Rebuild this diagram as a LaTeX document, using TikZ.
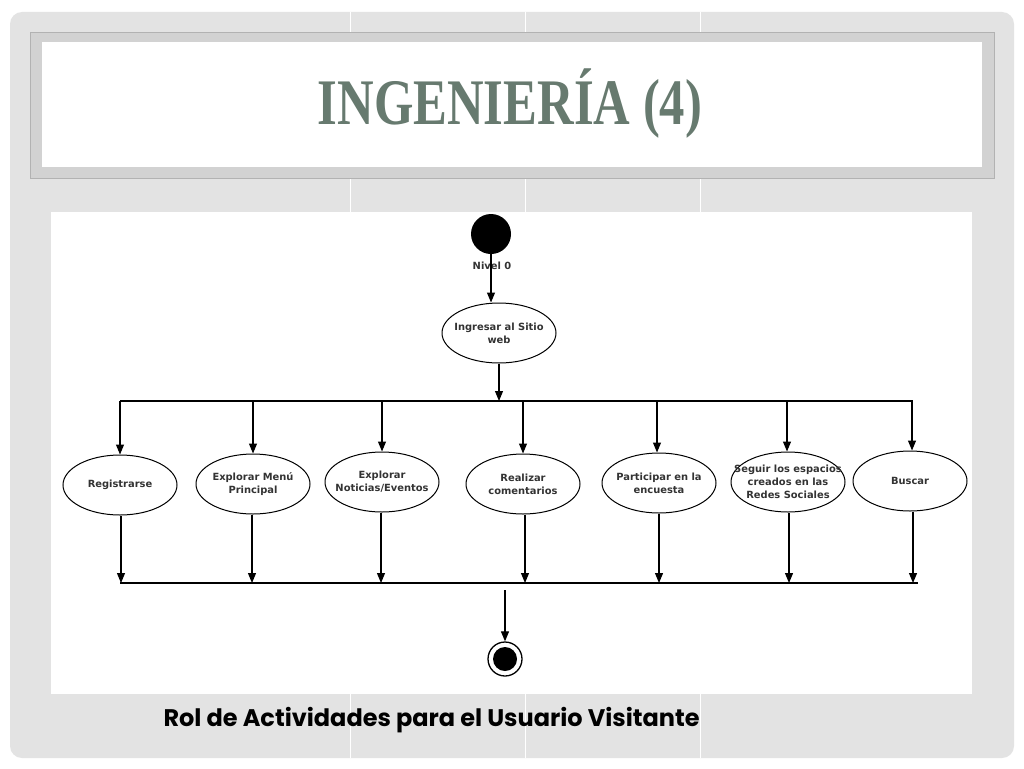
\documentclass[tikz,border=0pt]{standalone}
\usepackage{fontspec}
\setmainfont{Liberation Serif}
\newfontfamily\diafont{DejaVu Sans}
\newfontfamily\capfont{Poppins}
\usetikzlibrary{arrows.meta,shapes.geometric}
\definecolor{panelgray}{HTML}{E3E3E3}
\definecolor{framegray}{HTML}{D2D2D2}
\definecolor{titlegreen}{HTML}{677A6F}
\definecolor{txtgray}{HTML}{333333}
\tikzset{
  arr/.style={line width=1.1pt,-{Triangle[length=10pt,width=8pt]}},
  wire/.style={line width=1.1pt},
  act/.style={ellipse,draw=black,line width=1pt,minimum width=114pt,minimum height=60pt,inner sep=0pt},
  lbl/.style={font=\diafont\bfseries\fontsize{9.9}{12.8}\selectfont,text=txtgray,align=center,inner sep=0pt},
}
\begin{document}
\begin{tikzpicture}[x=1pt,y=-1pt]
\useasboundingbox (0,0) rectangle (1024,768);
\fill[white] (0,0) rectangle (1024,768);
% background panel
\fill[panelgray,rounded corners=12pt] (10,12) rectangle (1014,758);
\foreach \vx in {350,525,700}{\draw[white,line width=1pt] (\vx,12) -- (\vx,758);}
% title frame
\filldraw[fill=framegray,draw=black!30,line width=0.8pt] (30,32) rectangle (994,178);
\fill[white] (42,42) rectangle (982,167);
\node[text=titlegreen,xscale=0.78,font=\bfseries\fontsize{65}{70}\selectfont] (title) at (510,104) {INGENIERÍA (4)};
% diagram area
\fill[white] (51,212) rectangle (972,694);
% start
\node[circle,fill=black,minimum size=40pt,inner sep=0pt] (start) at (491,234) {};
\node[lbl] (nivel) at (492,266) {Nivel 0};
\node[act] (ing) at (499,333) {};
\node[lbl] at (ing) {Ingresar al Sitio\\web};
\draw[arr] (start.south) -- (ing.north -| start.south);
% fork bar
\coordinate (fl) at (120,401);
\coordinate (fr) at (913,401);
\coordinate (fm) at (499,401);
\draw[wire] (fl) -- (fr);
\draw[arr] (ing.south) -- (fm);
% activities
\node[act] (e1) at (120,485) {};
\node[lbl] at (e1) {Registrarse};
\node[act] (e2) at (253,484) {};
\node[lbl] at (e2) {Explorar Menú\\Principal};
\node[act] (e3) at (382,482) {};
\node[lbl] at (e3) {Explorar\\Noticias/Eventos};
\node[act] (e4) at (523,484) {};
\node[lbl] at (e4) {Realizar\\comentarios};
\node[act] (e5) at (659,483) {};
\node[lbl] at (e5) {Participar en la\\encuesta};
\node[act] (e6) at (788,482) {};
\node[lbl] at (e6) {Seguir los espacios\\creados en las\\Redes Sociales};
\node[act] (e7) at (910,481) {};
\node[lbl] at (e7) {Buscar};
% join bar
\coordinate (jl) at (120,583);
\coordinate (jr) at (918,583);
\draw[wire] (jl) -- (jr);
\coordinate (jm) at (505,583);
\foreach \i/\tx/\bx in {1/120/121,2/253/252,3/382/381,4/523/525,5/657/659,6/787/789,7/912/913}{
  \draw[arr] (\tx,401) -- (e\i.north -| \tx,0);
  \draw[arr] (e\i.south -| \bx,0) -- (\bx,583);
}
% end
\node[circle,draw=black,line width=1.3pt,fill=white,minimum size=34pt,inner sep=0pt] (end) at (505,659) {};
\node[circle,fill=black,minimum size=24pt,inner sep=0pt] at (end) {};
\draw[arr] ([yshift=-7pt]jm) -- (end.north);
% caption
\node[font=\capfont\bfseries\fontsize{24}{28}\selectfont,anchor=base west] (cap) at (160,726) {Rol de Actividades para el Usuario Visitante};
\end{tikzpicture}
\end{document}
